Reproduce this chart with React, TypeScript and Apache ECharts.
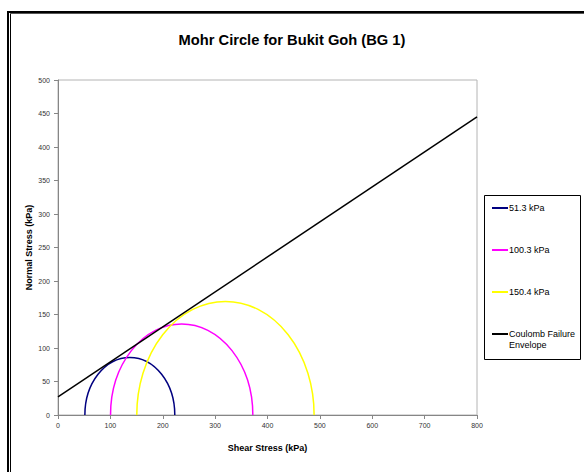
import React, { useEffect, useRef } from "react";
import * as echarts from "echarts";

const confiningStress = [51.3, 100.3, 150.4];
const majorStress = [223, 372, 489];
const circleNames = ["51.3 kPa", "100.3 kPa", "150.4 kPa"];
const circleColors = ["#000080", "#FF00FF", "#FFFF00"];
const envelopeX = [0, 800];
const envelopeY = [27, 445];
const envelopeName = "Coulomb Failure\nEnvelope";
const envelopeColor = "#000000";

const FONT = "'Liberation Sans', Arial, sans-serif";

export default function App() {
  const ref = useRef<HTMLDivElement>(null);
  useEffect(() => {
    if (!ref.current) return;
    const chart = echarts.init(ref.current, undefined, { renderer: "svg" });

    const circleSeries = confiningStress.map((s3, i) => ({
      type: "custom",
      name: circleNames[i],
      data: [[s3, majorStress[i]]],
      renderItem: (params: any, api: any) => {
        const a3 = api.value(0);
        const a1 = api.value(1);
        const p = api.coord([a3, 0]);
        const q = api.coord([a1, 0]);
        const r = (a1 - a3) / 2;
        const sz = api.size([r, r]);
        return {
          type: "path",
          shape: {
            pathData: `M${p[0]} ${p[1]} A${sz[0]} ${sz[1]} 0 0 1 ${q[0]} ${q[1]}`,
          },
          style: { fill: "none", stroke: circleColors[i], lineWidth: 1.5 },
        };
      },
      z: 2,
    }));

    const legendNames = [...circleNames, envelopeName];
    const legendColors = [...circleColors, envelopeColor];
    const legendY = [208, 250, 292, 334];
    const legendEls: any[] = [
      {
        type: "rect",
        shape: { x: 484.5, y: 195.5, width: 96, height: 164 },
        style: { fill: "#ffffff", stroke: "#000000", lineWidth: 1 },
      },
    ];
    legendNames.forEach((n, i) => {
      legendEls.push({
        type: "line",
        shape: { x1: 492, y1: legendY[i], x2: 508, y2: legendY[i] },
        style: { stroke: legendColors[i], lineWidth: 2 },
      });
      legendEls.push({
        type: "text",
        x: 509,
        y: n.includes("\n") ? legendY[i] - 5.5 : legendY[i],
        style: {
          text: n,
          font: `9px ${FONT}`,
          fill: "#000000",
          verticalAlign: n.includes("\n") ? "top" : "middle",
          lineHeight: 11,
        },
      });
    });

    chart.setOption({
      animation: false,
      backgroundColor: "#ffffff",
      title: {
        text: "Mohr Circle for Bukit Goh (BG 1)",
        left: "center",
        top: 27,
        textStyle: {
          fontFamily: FONT,
          fontSize: 14.7,
          fontWeight: "bold",
          color: "#000000",
        },
      },
      grid: {
        left: 58,
        right: 107,
        top: 80,
        bottom: 57,
        show: true,
        borderColor: "#b4b4b4",
        borderWidth: 1,
        backgroundColor: "transparent",
      },
      xAxis: {
        type: "value",
        min: 0,
        max: 800,
        interval: 100,
        name: "Shear Stress (kPa)",
        nameLocation: "middle",
        nameGap: 28,
        nameMoveOverlap: false,
        nameTextStyle: {
          fontFamily: FONT,
          fontSize: 9,
          fontWeight: "bold",
          color: "#000000",
        },
        axisLine: { show: true, lineStyle: { color: "#868686", width: 1 } },
        axisTick: { show: true, length: 4, lineStyle: { color: "#868686" } },
        axisLabel: { fontFamily: FONT, fontSize: 7, color: "#333333", margin: 7 },
        splitLine: { show: false },
      },
      yAxis: {
        type: "value",
        min: 0,
        max: 500,
        interval: 50,
        name: "Normal Stress (kPa)",
        nameLocation: "middle",
        nameGap: 25,
        nameMoveOverlap: false,
        nameTextStyle: {
          fontFamily: FONT,
          fontSize: 9,
          fontWeight: "bold",
          color: "#000000",
        },
        axisLine: { show: true, lineStyle: { color: "#868686", width: 1 } },
        axisTick: { show: true, length: 4, lineStyle: { color: "#868686" } },
        axisLabel: { fontFamily: FONT, fontSize: 7, color: "#333333", margin: 8 },
        splitLine: { show: false },
      },
      series: [
        ...circleSeries,
        {
          type: "line",
          name: envelopeName,
          data: envelopeX.map((x, i) => [x, envelopeY[i]]),
          symbol: "none",
          lineStyle: { color: envelopeColor, width: 1.5 },
          z: 3,
        },
      ],
      graphic: [
        ...legendEls,
        {
          type: "rect",
          shape: { x: 8, y: 12, width: 620, height: 520 },
          style: { fill: "none", stroke: "#000000", lineWidth: 2 },
        },
        {
          type: "line",
          shape: { x1: 10.5, y1: 13.5, x2: 10.5, y2: 520 },
          style: { stroke: "#000000", lineWidth: 1 },
        },
        {
          type: "line",
          shape: { x1: 10, y1: 13.5, x2: 640, y2: 13.5 },
          style: { stroke: "#555555", lineWidth: 1 },
        },
      ],
    });
    return () => chart.dispose();
  }, []);
  return (
    <div
      ref={ref}
      style={{ position: "fixed", left: 0, top: 0, width: 584, height: 472 }}
    />
  );
}
